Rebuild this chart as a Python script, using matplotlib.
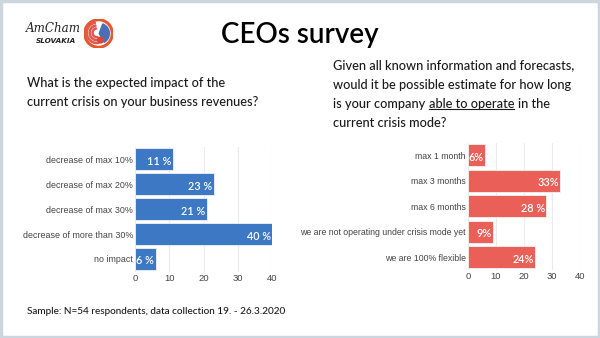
import matplotlib
matplotlib.use("Agg")
import matplotlib.pyplot as plt
from matplotlib.patches import Rectangle, Circle, Wedge
from matplotlib.lines import Line2D

# revenue impact question
impact_labels = ["decrease of max 10%", "decrease of max 20%", "decrease of max 30%",
                 "decrease of more than 30%", "no impact"]
impact_values = [11, 23, 21, 40, 6]
impact_text = ["11 %", "23 %", "21 %", "40 %", "6 %"]

# how long can the company operate in crisis mode
operate_labels = ["max 1 month", "max 3 months", "max 6 months",
                  "we are not operating under crisis mode yet", "we are 100% flexible"]
operate_values = [6, 33, 28, 9, 24]
operate_text = ["6%", "33%", "28 %", "9%", "24%"]

x_ticks = [0, 10, 20, 30, 40]

W, H = 600, 338
BLUE = "#3c78c3"
RED = "#ea6058"
TEXT = "#1a1a1a"
TICK = "#444444"


def fig_box(left, top, right, bottom):
    # pixel box (top-left origin) -> figure fraction rect
    return [left / W, 1 - bottom / H, (right - left) / W, (bottom - top) / H]


def bar_panel(ax, labels, values, texts, color, label_size):
    y = list(range(len(values)))
    ax.barh(y, values, height=0.86, color=color, edgecolor="#f2f2f2", linewidth=0.6, zorder=3)
    for yi, v, t in zip(y, values, texts):
        ax.text(v - 0.4, yi + 0.08, t, ha="right", va="center", color="white",
                fontsize=7.8, family="Lato", weight="semibold", zorder=4)
    ax.set_ylim(len(values) - 0.5, -0.5)
    ax.set_xlim(0, 40)
    ax.set_xticks(x_ticks)
    ax.set_yticks(y)
    ax.set_yticklabels(labels)
    ax.tick_params(axis="both", length=0, labelsize=label_size, colors=TICK, pad=1.5)
    for lbl in ax.get_xticklabels():
        lbl.set_family("Liberation Sans")
        lbl.set_fontsize(6.8)
    for lbl in ax.get_yticklabels():
        lbl.set_family("Liberation Sans")
    ax.grid(axis="x", color="#ebebeb", linewidth=0.8, zorder=0)
    for s in ax.spines.values():
        s.set_visible(False)
    ax.set_facecolor("none")


fig = plt.figure(figsize=(6, 3.38), dpi=100)
fig.patch.set_facecolor("white")

# full-figure layer for the free text, in pixel-like units
bg = fig.add_axes([0, 0, 1, 1])
bg.set_xlim(0, W)
bg.set_ylim(H, 0)
bg.axis("off")

# slide frame
bg.add_patch(Rectangle((1, 1), W - 2, H - 2, fill=False, edgecolor="#ccd6df", linewidth=2.5))

# logo
bg.text(26, 28, "AmCham", fontsize=8.6, style="italic", family="DejaVu Serif",
        color="#222222", va="center", ha="left")
bg.text(36, 41, "SLOVAKIA", fontsize=5.2, style="italic", weight="bold",
        family="DejaVu Sans", color="#222222", va="center", ha="left")
logo_ax = fig.add_axes(fig_box(84, 19, 113, 48))
logo_ax.set_xlim(-1, 1)
logo_ax.set_ylim(-1, 1)
logo_ax.set_aspect("equal")
logo_ax.axis("off")
logo_ax.add_patch(Circle((0, 0), 0.95, facecolor="white", edgecolor="#e5582f", linewidth=2.2))
for r in [0.75, 0.55, 0.35]:
    logo_ax.add_patch(Wedge((-0.1, 0.05), r, 100, 280, width=0.08, color="#e25a4f"))
logo_ax.add_patch(Wedge((0.05, 0), 0.7, -60, 70, color="#4a6fb5"))
logo_ax.add_patch(Circle((0.15, -0.45), 0.2, color="#d9443b"))

# title
bg.text(W / 2, 35, "CEOs survey", fontsize=20, family="Lato", weight="semibold",
        color="black", ha="center", va="center")

qfont = dict(fontsize=9.2, family="Lato", weight="medium", color=TEXT)

# left question
bg.text(27, 87, "What is the expected impact of the", ha="left", va="baseline", **qfont)
bg.text(27, 106.5, "current crisis on your business revenues?", ha="left", va="baseline", **qfont)

# right question, with "able to operate" underlined
bg.text(333, 69.5, "Given all known information and forecasts,", ha="left", va="baseline", **qfont)
bg.text(333, 89, "would it be possible estimate for how long", ha="left", va="baseline", **qfont)
t1 = bg.text(333, 108, "is your company", ha="left", va="baseline", **qfont)
t2 = bg.annotate("able to operate", xy=(1, 0), xycoords=t1, xytext=(2.6, 0),
                 textcoords="offset points", ha="left", va="bottom", **qfont)
t3 = bg.annotate("in the", xy=(1, 0), xycoords=t2, xytext=(2.6, 0),
                 textcoords="offset points", ha="left", va="bottom", **qfont)
bg.text(333, 127, "current crisis mode?", ha="left", va="baseline", **qfont)

# side-by-side bar panels
ax1 = fig.add_axes(fig_box(135, 146.5, 272, 271.5))
bar_panel(ax1, impact_labels, impact_values, impact_text, BLUE, 6.4)
ax2 = fig.add_axes(fig_box(468, 142.5, 580, 270))
bar_panel(ax2, operate_labels, operate_values, operate_text, RED, 6.3)

# footnote
bg.text(27, 311, "Sample: N=54 respondents, data collection 19. - 26.3.2020",
        fontsize=7.2, family="Lato", weight="medium", color=TEXT, ha="left", va="center")

# underline under the middle piece of the third line
fig.canvas.draw()
bb = t2.get_window_extent()
uy = H - (bb.y0 + 1.5)
bg.add_line(Line2D([bb.x0, bb.x1], [uy, uy], color=TEXT, linewidth=0.8))

fig.savefig("out.png", dpi=100)
